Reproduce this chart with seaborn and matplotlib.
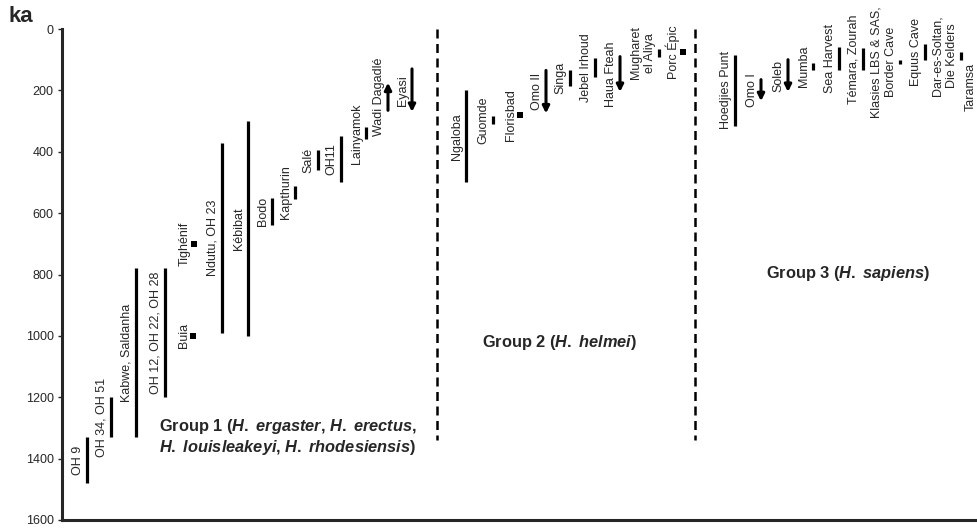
import numpy as np
import matplotlib.pyplot as plt
import pandas as pd
import seaborn as sns

# ages in ka (kilo-annum); ranges are young -> old
range_sites = ['OH 9', 'OH 34, OH 51', 'Kabwe, Saldanha', 'OH 12, OH 22, OH 28',
               'Ndutu, OH 23', 'Kébibat', 'Bodo', 'Kapthurin', 'Salé', 'OH11',
               'Lainyamok', 'Ngaloba', 'Guomde', 'Singa', 'Jebel Irhoud',
               'Mugharet\nel Aliya', 'Hoedjies Punt', 'Mumba', 'Sea Harvest',
               'Témara, Zourah', 'Klasies LBS & SAS,\nBorder Cave', 'Equus Cave',
               'Dar-es-Soltan,\nDie Kelders']
range_young = [1330, 1200, 780, 780, 370, 300, 550, 510, 395, 350, 320,
               200, 285, 135, 95, 65, 85, 110, 58, 62, 100, 48, 75]
range_old = [1480, 1330, 1330, 1200, 990, 1000, 640, 555, 460, 500, 360,
             500, 310, 185, 158, 90, 315, 135, 135, 134, 115, 102, 100]

point_sites = ['Buia', 'Tighénif', 'Florisbad', 'Porc Épic']
point_age = [1000, 700, 280, 75]

# arrows: from -> to (down = older limit open, up = younger limit open)
arrow_sites = ['Wadi Dagadlé', 'Eyasi', 'Omo II', 'Haua Fteah', 'Omo I', 'Soleb']
arrow_from = [265, 130, 135, 90, 165, 100]
arrow_to = [175, 270, 275, 205, 235, 205]

label_only_sites = ['Taramsa']
label_only_age = [190]

group_labels = [
    'Group 1 ($\\mathit{H.}$ $\\mathit{ergaster}$, $\\mathit{H.}$ $\\mathit{erectus}$,\n'
    '$\\mathit{H.}$ $\\mathit{louisleakeyi}$, $\\mathit{H.}$ $\\mathit{rhodesiensis}$)',
    'Group 2 ($\\mathit{H.}$ $\\mathit{helmei}$)',
    'Group 3 ($\\mathit{H.}$ $\\mathit{sapiens}$)',
]

# layout (horizontal columns, in figure pixels)
column_x = {
    'OH 9': 87, 'OH 34, OH 51': 111, 'Kabwe, Saldanha': 136,
    'OH 12, OH 22, OH 28': 165, 'Buia': 193, 'Tighénif': 194,
    'Ndutu, OH 23': 222, 'Kébibat': 248, 'Bodo': 272, 'Kapthurin': 295,
    'Salé': 318, 'OH11': 341, 'Lainyamok': 366, 'Wadi Dagadlé': 388,
    'Eyasi': 412,
    'Ngaloba': 466, 'Guomde': 493, 'Florisbad': 520, 'Omo II': 546,
    'Singa': 570, 'Jebel Irhoud': 595, 'Haua Fteah': 620,
    'Mugharet\nel Aliya': 659, 'Porc Épic': 683,
    'Hoedjies Punt': 735, 'Omo I': 761, 'Soleb': 788, 'Mumba': 813,
    'Sea Harvest': 839, 'Témara, Zourah': 863,
    'Klasies LBS & SAS,\nBorder Cave': 900, 'Equus Cave': 925,
    'Dar-es-Soltan,\nDie Kelders': 961, 'Taramsa': 980,
}
divider_x = [437, 695]
group_label_pos = [(288, 1330), (560, 1023), (848, 798)]

sns.set_style('ticks')
plt.rcParams['font.family'] = ['Liberation Sans', 'DejaVu Sans']
plt.rcParams['mathtext.fontset'] = 'custom'
plt.rcParams['mathtext.it'] = 'Liberation Sans:italic:bold'
plt.rcParams['mathtext.rm'] = 'Liberation Sans:bold'
plt.rcParams['mathtext.bf'] = 'Liberation Sans:bold'

fig = plt.figure(figsize=(9.78, 5.29), dpi=100)
ax = fig.add_axes([62 / 978, 9 / 529, 916 / 978, 491 / 529])

# range bars as long-form table, one line per site
ranges = pd.DataFrame({'site': range_sites, 'young': range_young, 'old': range_old})
ranges['x'] = ranges['site'].map(column_x)
long_df = ranges.melt(id_vars=['site', 'x'], value_vars=['young', 'old'], value_name='ka')
sns.lineplot(data=long_df, x='x', y='ka', units='site', estimator=None, sort=False,
             color='black', linewidth=2.3, solid_capstyle='butt', legend=False, ax=ax)

points = pd.DataFrame({'site': point_sites, 'ka': point_age})
points['x'] = points['site'].map(column_x)
sns.scatterplot(data=points, x='x', y='ka', marker='s', s=16, color='black',
                edgecolor='black', linewidth=0, legend=False, ax=ax)

for site, a0, a1 in zip(arrow_sites, arrow_from, arrow_to):
    ax.annotate('', xy=(column_x[site], a1), xytext=(column_x[site], a0),
                arrowprops=dict(arrowstyle='-|>', color='black', lw=2.2,
                                mutation_scale=10, shrinkA=0, shrinkB=0))

# site labels, rotated, just left of each mark
label_mid = {}
for site, a0, a1 in zip(range_sites, range_young, range_old):
    label_mid[site] = (a0 + a1) / 2
for site, a in zip(point_sites, point_age):
    label_mid[site] = a
for site, a0, a1 in zip(arrow_sites, arrow_from, arrow_to):
    label_mid[site] = (a0 + a1) / 2
for site, a in zip(label_only_sites, label_only_age):
    label_mid[site] = a

for site, mid in label_mid.items():
    ax.annotate(site, xy=(column_x[site], mid), xytext=(-2.5, 0),
                textcoords='offset points', rotation=90, ha='right', va='center',
                multialignment='center', fontsize=9, linespacing=1.2,
                annotation_clip=False)

for x in divider_x:
    ax.plot([x, x], [0, 1340], color='black', lw=1.8, ls=(0, (3.6, 2.2)),
            clip_on=False)

for text, (gx, gy) in zip(group_labels, group_label_pos):
    ax.text(gx, gy, text, ha='center', va='center', multialignment='center',
            fontsize=11.8, fontweight='bold', linespacing=1.15)

ax.set_xlim(62, 978)
ax.set_ylim(1600, 0)
ax.set_yticks(np.arange(0, 1601, 200))
ax.set_xticks([])
ax.set_xlabel('')
ax.set_ylabel('')
ax.tick_params(axis='y', length=3, width=1, labelsize=9, pad=3)
sns.despine(ax=ax)
ax.spines['left'].set_linewidth(2.2)
ax.spines['bottom'].set_linewidth(2.2)

fig.text(8 / 978, 1 - 17 / 529, 'ka', fontsize=16, fontweight='bold', va='center')

fig.savefig('out.png', dpi=100)
